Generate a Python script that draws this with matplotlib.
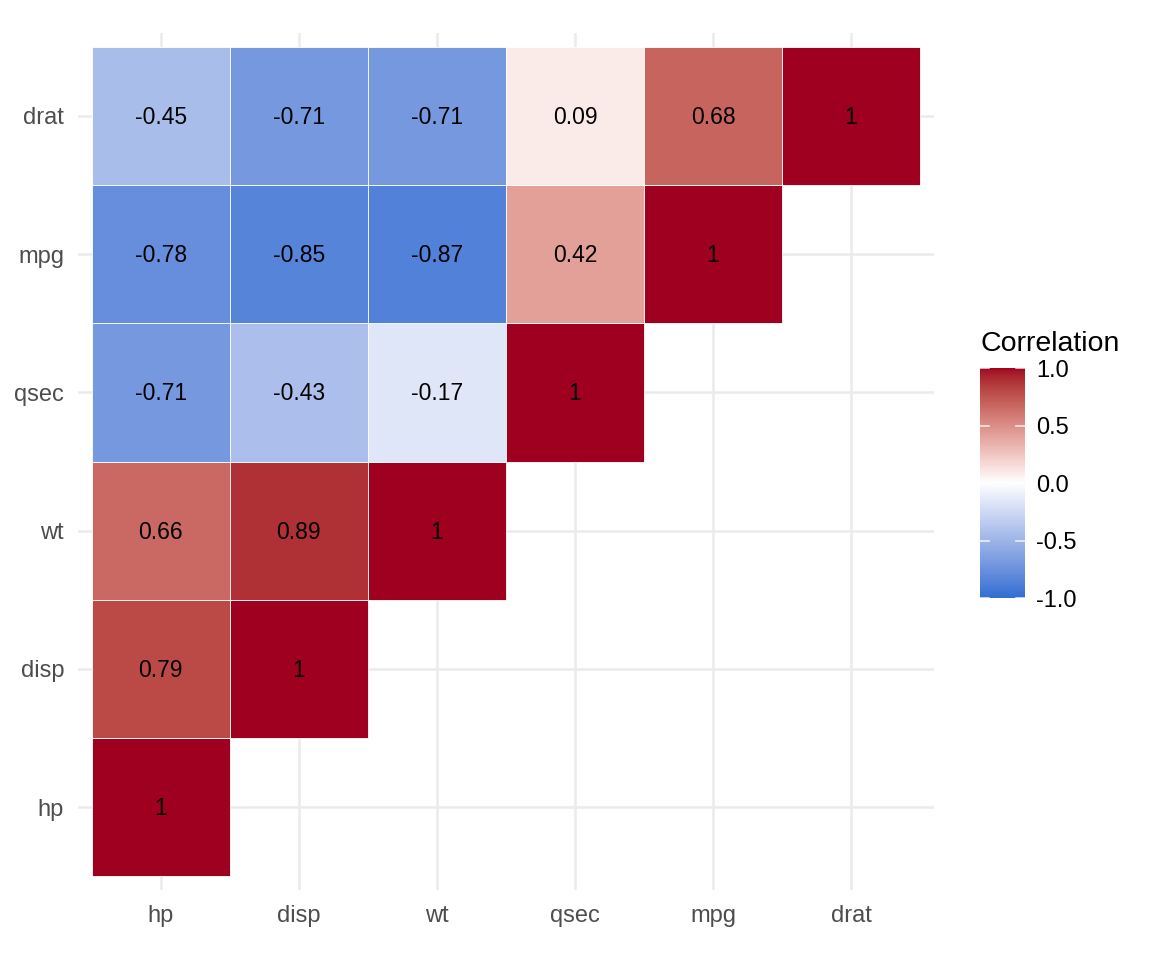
import numpy as np
import matplotlib
matplotlib.use("Agg")
import matplotlib.pyplot as plt
from matplotlib.colors import ListedColormap

plt.rcParams['font.family'] = ['Liberation Sans', 'DejaVu Sans']

# variable order on both axes (y goes bottom -> top)
variables = ["hp", "disp", "wt", "qsec", "mpg", "drat"]

# lower-left triangle, one row per y variable, values for x = hp, disp, ...
row_hp = [1]
row_disp = [0.79, 1]
row_wt = [0.66, 0.89, 1]
row_qsec = [-0.71, -0.43, -0.17, 1]
row_mpg = [-0.78, -0.85, -0.87, 0.42, 1]
row_drat = [-0.45, -0.71, -0.71, 0.09, 0.68, 1]
rows = [row_hp, row_disp, row_wt, row_qsec, row_mpg, row_drat]

low_col = "#3070D2"
mid_col = "#FFFFFF"
high_col = "#A00020"


def hex2rgb(h):
    h = h.lstrip("#")
    return np.array([int(h[i:i + 2], 16) for i in (0, 2, 4)]) / 255.0


def rgb2lab(c):
    c = np.where(c > 0.04045, ((c + 0.055) / 1.055) ** 2.4, c / 12.92)
    M = np.array([[0.4124, 0.3576, 0.1805],
                  [0.2126, 0.7152, 0.0722],
                  [0.0193, 0.1192, 0.9505]])
    xyz = M @ c / np.array([0.95047, 1.0, 1.08883])
    f = np.where(xyz > 0.008856, np.cbrt(xyz), 7.787 * xyz + 16 / 116)
    return np.array([116 * f[1] - 16, 500 * (f[0] - f[1]), 200 * (f[1] - f[2])])


def lab2rgb(lab):
    L, a, b = lab
    fy = (L + 16) / 116
    fx = fy + a / 500
    fz = fy - b / 200
    f = np.array([fx, fy, fz])
    xyz = np.where(f ** 3 > 0.008856, f ** 3, (f - 16 / 116) / 7.787)
    xyz = xyz * np.array([0.95047, 1.0, 1.08883])
    Minv = np.array([[3.2406, -1.5372, -0.4986],
                     [-0.9689, 1.8758, 0.0415],
                     [0.0557, -0.2040, 1.0570]])
    c = Minv @ xyz
    c = np.where(c > 0.0031308, 1.055 * np.abs(c) ** (1 / 2.4) - 0.055, 12.92 * c)
    return np.clip(c, 0, 1)


# blue half: mix of rgb and Lab blend, red half: Lab blend
rgb_low, rgb_mid = hex2rgb(low_col), hex2rgb(mid_col)
lab_low, lab_mid, lab_high = rgb2lab(rgb_low), rgb2lab(rgb_mid), rgb2lab(hex2rgb(high_col))
cols = []
for v in np.linspace(-1, 1, 256):
    if v < 0:
        t = v + 1
        c_rgb = rgb_low + (rgb_mid - rgb_low) * t
        c_lab = lab2rgb(lab_low + (lab_mid - lab_low) * t)
        cols.append(0.5 * c_rgb + 0.5 * c_lab)
    else:
        cols.append(lab2rgb(lab_mid + (lab_high - lab_mid) * v))
cmap = ListedColormap(cols)

fig = plt.figure(figsize=(11.52, 9.6), dpi=100)
ax = fig.add_axes([0.0677, 0.0729, 0.743, 0.8927])

n = len(variables)
for j, row in enumerate(rows):
    for i, val in enumerate(row):
        color = cmap((val + 1) / 2)
        ax.add_patch(plt.Rectangle((i + 0.5, j + 0.5), 1, 1, facecolor=color,
                                   edgecolor="white", linewidth=0.6, zorder=2))
        label = "1" if val == 1 else f"{val:.2f}"
        ax.text(i + 1, j + 0.99, label, ha="center", va="center",
                fontsize=16.5, color="black", zorder=3)

ax.set_xlim(0.4, n + 0.6)
ax.set_ylim(0.4, n + 0.6)
ax.set_xticks(range(1, n + 1))
ax.set_yticks(range(1, n + 1))
ax.set_xticklabels(variables)
ax.set_yticklabels(variables)
ax.tick_params(length=0, labelsize=17, labelcolor="#4D4D4D")
ax.tick_params(axis="x", pad=11)
ax.tick_params(axis="y", pad=10)
ax.grid(True, color="#EBEBEB", linewidth=1.8, zorder=0)
ax.set_axisbelow(True)
for s in ax.spines.values():
    s.set_visible(False)

# colour bar legend
cax = fig.add_axes([0.8507, 0.377, 0.039, 0.2396])
grad = np.linspace(-1, 1, 300).reshape(-1, 1)
cax.imshow(grad, cmap=cmap, aspect="auto", origin="lower", extent=[0, 1, -1, 1], vmin=-1, vmax=1)
for t in [-1, -0.5, 0, 0.5, 1]:
    cax.plot([0, 0.2], [t, t], color="white", lw=1.2, alpha=0.8)
    cax.plot([0.8, 1], [t, t], color="white", lw=1.2, alpha=0.8)
cax.set_xlim(0, 1)
cax.set_ylim(-1, 1)
cax.set_xticks([])
cax.yaxis.tick_right()
cax.set_yticks([-1, -0.5, 0, 0.5, 1])
cax.set_yticklabels(["-1.0", "-0.5", "0.0", "0.5", "1.0"])
cax.tick_params(length=0, labelsize=17, pad=8)
for s in cax.spines.values():
    s.set_visible(False)
fig.text(0.8507, 0.642, "Correlation", fontsize=20.5, ha="left", va="center")

fig.savefig("out.png", dpi=100)
